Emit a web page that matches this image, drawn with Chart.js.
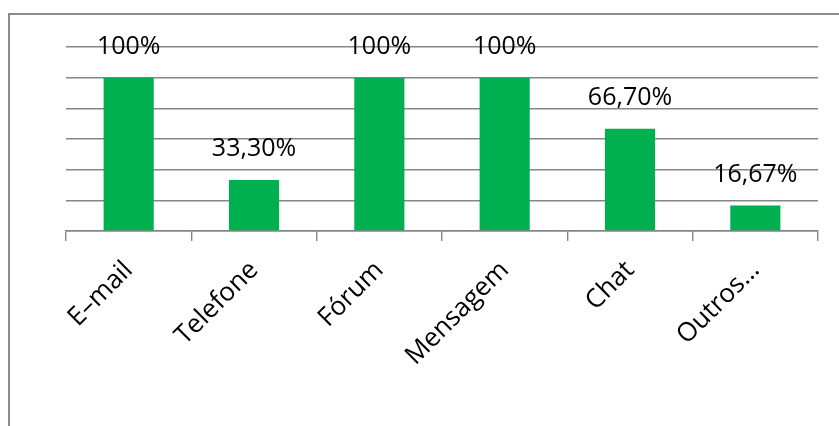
<!DOCTYPE html>
<html>
<head>
<meta charset="utf-8">
<script src="https://cdn.jsdelivr.net/npm/chart.js@4/dist/chart.umd.min.js"></script>
<style>
  body { margin: 0; background: #fff; }
  #frame {
    position: absolute; left: 8px; top: 13px; width: 831px; height: 413px;
    border-top: 2px solid #8c8c8c; border-left: 2px solid #8c8c8c;
    box-sizing: border-box;
  }
  #wrap { position: absolute; left: 0; top: 0; width: 839px; height: 426px; }
</style>
</head>
<body>
<div id="frame"></div>
<div id="wrap"><canvas id="chart"></canvas></div>
<script>
// canais de comunicação usados
const categories = ['E–mail', 'Telefone', 'Fórum', 'Mensagem', 'Chat', 'Outros…'];
const values = [1.0, 0.333, 1.0, 1.0, 0.667, 0.1667];
const valueLabels = ['100%', '33,30%', '100%', '100%', '66,70%', '16,67%'];

const font = "'Open Sans', sans-serif";

// escreve o rótulo de cada barra acima dela
const barLabels = {
  id: 'barLabels',
  afterDatasetsDraw(chart) {
    const ctx = chart.ctx;
    const meta = chart.getDatasetMeta(0);
    ctx.save();
    ctx.font = '25px ' + font;
    ctx.fillStyle = '#000';
    ctx.textAlign = 'center';
    ctx.textBaseline = 'middle';
    meta.data.forEach((bar, i) => {
      ctx.fillText(valueLabels[i], bar.x, bar.y - 31);
    });
    ctx.restore();
  }
};

const chartCanvas = document.getElementById('chart');
let chart = new Chart(chartCanvas, {
  type: 'bar',
  data: {
    labels: categories,
    datasets: [{
      data: values,
      backgroundColor: '#00b050',
      barPercentage: 0.4,
      categoryPercentage: 1
    }]
  },
  options: {
    responsive: true,
    maintainAspectRatio: false,
    animation: false,
    layout: { padding: { left: 66, right: 21, top: 47, bottom: 0 } },
    plugins: {
      legend: { display: false },
      tooltip: { enabled: false }
    },
    scales: {
      x: {
        grid: {
          offset: true,
          drawOnChartArea: false,
          drawTicks: true,
          tickLength: 10,
          color: '#868686',
          lineWidth: 1.4
        },
        border: { color: '#868686', width: 1.4 },
        ticks: {
          color: '#000',
          font: { family: font, size: 26 },
          minRotation: 45,
          maxRotation: 45,
          autoSkip: false,
          padding: 14
        },
        afterFit: s => { s.height = 195; }
      },
      y: {
        min: 0,
        max: 1.2,
        ticks: { stepSize: 0.2, display: false },
        grid: { color: '#868686', lineWidth: 1.4, drawTicks: false },
        border: { display: false },
        afterFit: s => { s.width = 0; }
      }
    }
  },
  plugins: [barLabels]
});
</script>
</body>
</html>
